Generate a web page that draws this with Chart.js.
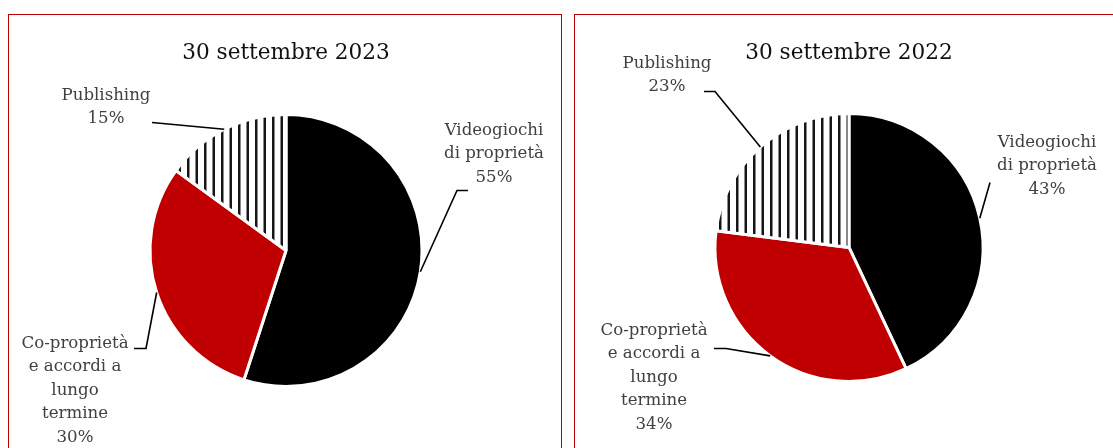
<!DOCTYPE html>
<html>
<head>
<meta charset="utf-8">
<script src="https://cdn.jsdelivr.net/npm/chart.js@4.4.0/dist/chart.umd.min.js"></script>
<style>
  body { margin: 0; background: #fff; overflow: hidden; }
  .box { position: absolute; top: 14px; height: 520px; border: 1.5px solid #c00000; box-sizing: border-box; }
  canvas { position: absolute; top: 0; }
</style>
</head>
<body>
<div class="box" style="left:8px; width:554px;"></div>
<div class="box" style="left:574px; width:600px;"></div>
<canvas id="pie2023" width="572" height="448" style="left:0px"></canvas>
<canvas id="pie2022" width="566" height="448" style="left:566px"></canvas>
<script>
// dati
const categories = [
    ['Videogiochi', 'di proprietà'],
    ['Co-proprietà', 'e accordi a', 'lungo', 'termine'],
    ['Publishing']
];
const values2023 = [55, 30, 15];
const values2022 = [43, 34, 23];
const titles = ['30 settembre 2023', '30 settembre 2022'];

const serif = '"DejaVu Serif", "Liberation Serif", serif';

// pattern a righe verticali per Publishing
function createStripes() {
    const c = document.createElement('canvas');
    c.width = 17;
    c.height = 10;
    const g = c.getContext('2d');
    g.fillStyle = '#fff';
    g.fillRect(0, 0, 17, 10);
    g.fillStyle = '#161616';
    g.fillRect(0, 0, 2.5, 10);
    g.fillRect(8.5, 0, 2.5, 10);
    return g.createPattern(c, 'repeat');
}

// etichette esterne con linee guida
const leaderLabels = {
    id: 'leaderLabels',
    afterDatasetsDraw(chart, args, opts) {
        const ctx = chart.ctx;
        const meta = chart.getDatasetMeta(0);
        const values = chart.data.datasets[0].data;
        ctx.save();
        meta.data.forEach((arc, i) => {
            const p = arc.getProps(['x', 'y', 'startAngle', 'endAngle', 'outerRadius'], true);
            const mid = (p.startAngle + p.endAngle) / 2;
            const spot = opts.spots[i];
            ctx.strokeStyle = '#000';
            ctx.lineWidth = 1.6;
            ctx.beginPath();
            ctx.moveTo(p.x + Math.cos(mid) * p.outerRadius, p.y + Math.sin(mid) * p.outerRadius);
            spot.line.forEach(pt => ctx.lineTo(p.x + pt[0], p.y + pt[1]));
            ctx.stroke();

            ctx.fillStyle = '#404040';
            ctx.font = '16.6px ' + serif;
            ctx.textAlign = 'center';
            ctx.textBaseline = 'middle';
            const lines = categories[i].concat([values[i] + '%']);
            lines.forEach((t, k) => {
                ctx.fillText(t, p.x + spot.tx, p.y + spot.ty + k * 23.5);
            });
        });
        ctx.restore();
    }
};

function makePie(id, values, title, radius, padding, titlePad, spots) {
    const ctx = document.getElementById(id).getContext('2d');
    return new Chart(ctx, {
        type: 'pie',
        data: {
            labels: categories.map(c => c.join(' ')),
            datasets: [{
                data: values,
                backgroundColor: ['#000000', '#c00000', createStripes()],
                borderColor: '#ffffff',
                borderWidth: 3,
                radius: radius
            }]
        },
        options: {
            responsive: false,
            animation: false,
            layout: { padding: padding },
            plugins: {
                legend: { display: false },
                tooltip: { enabled: false },
                title: {
                    display: true,
                    text: title,
                    color: '#111',
                    font: { family: serif, size: 21.6, weight: 'normal' },
                    padding: titlePad
                },
                leaderLabels: { spots: spots }
            }
        },
        plugins: [leaderLabels]
    });
}

makePie('pie2023', values2023, titles[0], 136,
    { left: 150, right: 150, top: 0, bottom: 63 },
    { top: 40, bottom: 50 },
    [
        { line: [[171, -60], [182, -60]], tx: 208, ty: -120 },
        { line: [[-140, 98], [-152, 98]], tx: -211, ty: 93 },
        { line: [[-134, -128]], tx: -180, ty: -155 }
    ]);

makePie('pie2022', values2022, titles[1], 134,
    { left: 149, right: 149, top: 0, bottom: 67 },
    { top: 40, bottom: 48 },
    [
        { line: [[141, -65]], tx: 198, ty: -105 },
        { line: [[-123, 101], [-135, 101]], tx: -195, ty: 83 },
        { line: [[-134, -156], [-145, -156]], tx: -182, ty: -184 }
    ]);
</script>
</body>
</html>
